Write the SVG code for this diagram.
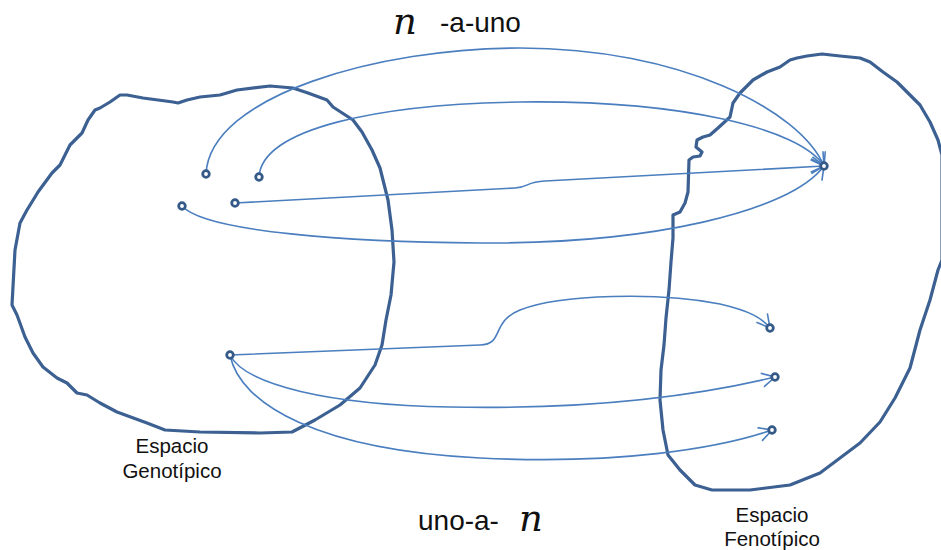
<svg xmlns="http://www.w3.org/2000/svg" width="941" height="550" viewBox="0 0 941 550">
<style>
.blob{fill:none;stroke:#3b6091;stroke-width:3.2;stroke-linejoin:round;stroke-linecap:round}
.arc{fill:none;stroke:#4a7ebf;stroke-width:1.6}
.dot{fill:#fff;stroke:#355a88;stroke-width:2.8}
.sans{font-family:"Liberation Sans",Arial,sans-serif;fill:#111}
.lbl{font-size:20.5px}
.math{font-family:"DejaVu Serif","Liberation Serif",serif;font-style:italic;fill:#111;font-size:37px}
</style>
<defs>
<marker id="ah" viewBox="-14 -8 16 16" markerWidth="16" markerHeight="16" refX="0" refY="0" orient="auto" markerUnits="userSpaceOnUse">
<path d="M-13,-7 L0,0 L-13,7" fill="none" stroke="#4a7ebf" stroke-width="1.6"/>
</marker>
</defs>
<g id="genotipico">
<path class="blob" d="M200,97 L187,100 L178,103 L173,102 L143,98 L127,95 L120,95 L110,102 L100,108 L95,110 L88,120 L82,133 L75,140 L70,145 L60,165 L52,173 L38,192 L35,197 L27,210 L20,223 L15,250 L12,305 L17,315 L25,337 L33,353 L43,367 L57,378 L67,383 L77,393 L87,395 L100,403 L117,412 L147,423 L165,430 L200,432 L260,433 L292,432 L315,420 L340,405 L360,388 L375,365 L382,345 L386,320 L391,295 L394,262 L392,230 L388,200 L380,168 L372,150 L362,132 L353,120 L333,107 L327,100 L308,93 L293,88 L270,86 L237,90 L220,95 Z"/>
<text class="sans lbl" x="172" y="453" text-anchor="middle">Espacio</text>
<text class="sans lbl" x="172" y="478" text-anchor="middle">Genotípico</text>
</g>
<g id="fenotipico">
<path class="blob" d="M673,238 L673,215 L680,212 L685,203 L688,192 L689,160 L693,157 L700,156 L702,152 L696,147 L697,140 L703,137 L710,135 L718,128 L730,117 L733,103 L740,93 L753,80 L767,72 L780,67 L790,60 L797,58 L807,56 L822,54 L840,56 L860,58 L870,62 L883,72 L897,82 L910,95 L920,105 L930,122 L938,140 L942,155 L942,260 L938,270 L930,300 L920,330 L910,368 L895,398 L880,422 L860,443 L840,458 L820,473 L790,485 L750,490 L712,490 L695,485 L680,470 L668,455 L663,430 L660,400 L661,370 L664,345 L666,318 L669,290 L671,262 Z"/>
<text class="sans lbl" x="772" y="522" text-anchor="middle">Espacio</text>
<text class="sans lbl" x="772" y="546" text-anchor="middle">Fenotípico</text>
</g>
<g id="connectors">
<path class="arc" marker-end="url(#ah)" d="M206,174 C210,95 380,48 520,48 C680,48 800,110 824,166"/>
<path class="arc" marker-end="url(#ah)" d="M259,177 C262,128 380,104 520,102 C680,100 800,128 824,166"/>
<path class="arc" marker-end="url(#ah)" d="M235,203 L515,188 C530,187 525,182 545,181 L824,166"/>
<path class="arc" marker-end="url(#ah)" d="M182,206 C205,232 350,242 480,243 C650,244 790,212 824,166"/>
<path class="arc" marker-end="url(#ah)" d="M230,355 L480,345 C505,344 490,322 520,310 C560,294 660,292 720,304 C750,311 762,318 770,328"/>
<path class="arc" marker-end="url(#ah)" d="M230,355 C245,385 330,405 450,407 C600,410 700,395 775,377"/>
<path class="arc" marker-end="url(#ah)" d="M230,355 C240,405 320,450 480,458 C620,465 720,448 772,430"/>
</g>
<g id="dots">
<circle class="dot" cx="206" cy="174" r="3.3"/>
<circle class="dot" cx="259" cy="177" r="3.3"/>
<circle class="dot" cx="182" cy="206" r="3.3"/>
<circle class="dot" cx="235" cy="203" r="3.3"/>
<circle class="dot" cx="230" cy="355" r="3.3"/>
<circle class="dot" cx="824" cy="166" r="3.3"/>
<circle class="dot" cx="770" cy="328" r="3.3"/>
<circle class="dot" cx="775" cy="377" r="3.3"/>
<circle class="dot" cx="772" cy="430" r="3.3"/>
</g>
<g id="labels">
<text class="math" x="393" y="34">n</text>
<text class="sans" x="440" y="32" font-size="28">-a-uno</text>
<text class="sans" x="418" y="530" font-size="28">uno-a-</text>
<text class="math" x="519" y="531">n</text>
</g>
</svg>
